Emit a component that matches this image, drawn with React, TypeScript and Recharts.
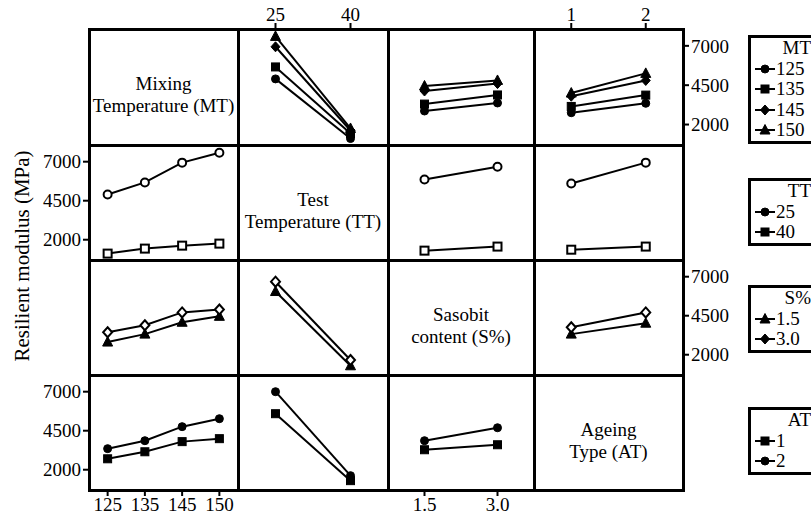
import React from 'react';
import { LineChart, Line, XAxis, YAxis } from 'recharts';

const MT_LEVELS = ['125', '135', '145', '150'];
const TT_LEVELS = ['25', '40'];
const S_LEVELS = ['1.5', '3.0'];
const AT_LEVELS = ['1', '2'];
const Y_TICKS = [2000, 4500, 7000];

// each inner array = one trace line, values in order of the x levels
const mtVsTt = [[4900, 1110], [5660, 1430], [6940, 1620], [7600, 1750]];
const mtVsS = [[2860, 3370], [3300, 3880], [4130, 4600], [4450, 4800]];
const mtVsAt = [[2750, 3350], [3150, 3870], [3800, 4800], [4000, 5250]];
const ttVsMt = [[4900, 5670, 6940, 7570], [1110, 1430, 1620, 1750]];
const ttVsS = [[5860, 6680], [1300, 1560]];
const ttVsAt = [[5600, 6940], [1360, 1560]];
const sVsMt = [[2810, 3320, 4080, 4460], [3440, 3890, 4710, 4900]];
const sVsTt = [[6050, 1290], [6680, 1660]];
const sVsAt = [[3320, 4020], [3760, 4710]];
const atVsMt = [[2700, 3150, 3800, 3990], [3350, 3860, 4760, 5270]];
const atVsTt = [[5590, 1300], [7000, 1620]];
const atVsS = [[3280, 3600], [3860, 4690]];

const MT_SHAPES = ['circle', 'square', 'diamond', 'triangle'];
const TT_SHAPES = ['circle', 'square'];
const S_SHAPES = ['triangle', 'diamond'];
const AT_SHAPES = ['square', 'circle'];

const COLS = [89, 238, 388, 534, 683];
const ROWS = [29, 145, 260, 375, 490];
const FONT = '"Liberation Serif", "Times New Roman", serif';
const TICK = { fill: '#000', fontSize: 19, fontFamily: FONT };

function Marker({ cx, cy, shape, hollow }: { cx: number; cy: number; shape: string; hollow?: boolean }) {
    const fill = hollow ? '#fff' : '#000';
    const sw = hollow ? 2 : 1;
    if (shape === 'square') return <rect x={cx - 4} y={cy - 4} width={8} height={8} fill={fill} stroke="#000" strokeWidth={sw} />;
    if (shape === 'diamond') return <polygon points={`${cx},${cy - 5} ${cx + 4.5},${cy} ${cx},${cy + 5} ${cx - 4.5},${cy}`} fill={fill} stroke="#000" strokeWidth={sw} />;
    if (shape === 'triangle') return <polygon points={`${cx},${cy - 5.5} ${cx + 5},${cy + 4} ${cx - 5},${cy + 4}`} fill={fill} stroke="#000" strokeWidth={sw} />;
    return <circle cx={cx} cy={cy} r={4} fill={fill} stroke="#000" strokeWidth={sw} />;
}

interface PanelProps {
    row: number;
    col: number;
    xLevels: string[];
    lines: number[][];
    shapes: string[];
    hollow?: boolean[];
    xAxis?: 'top' | 'bottom';
    yAxis?: 'left' | 'right';
}

function Panel({ row, col, xLevels, lines, shapes, hollow = [], xAxis, yAxis }: PanelProps) {
    const w = COLS[col + 1] - COLS[col];
    const h = ROWS[row + 1] - ROWS[row];
    const axW = 62;
    const axH = 30;
    const data = xLevels.map((_, i) => {
        const d: Record<string, number> = { x: i };
        lines.forEach((vals, k) => { d['s' + k] = vals[i]; });
        return d;
    });
    const left = COLS[col] - (yAxis === 'left' ? axW : 0);
    const top = ROWS[row] - (xAxis === 'top' ? axH : 0);
    return (
        <div style={{ position: 'absolute', left, top }}>
            <LineChart width={w + (yAxis ? axW : 0)} height={h + (xAxis ? axH : 0)} data={data}
                margin={{ top: 0, right: 0, bottom: 0, left: 0 }}>
                <XAxis dataKey="x" type="number" domain={[-0.5, xLevels.length - 0.5]} allowDataOverflow
                    ticks={xLevels.map((_, i) => i)} tickFormatter={(i: number) => xLevels[i]} interval={0}
                    hide={!xAxis} orientation={xAxis || 'bottom'} height={axH} axisLine={false}
                    tick={TICK} tickLine={{ stroke: '#000', strokeWidth: 2 }} />
                <YAxis type="number" domain={[700, 8070]} allowDataOverflow ticks={Y_TICKS} interval={0}
                    hide={!yAxis} orientation={yAxis || 'left'} width={axW} axisLine={false}
                    tick={TICK} tickLine={{ stroke: '#000', strokeWidth: 2 }} />
                {lines.map((_, k) => (
                    <Line key={k} dataKey={'s' + k} stroke="#000" strokeWidth={2} isAnimationActive={false}
                        activeDot={false}
                        dot={(p: any) => <Marker key={`${k}-${p.index}`} cx={p.cx} cy={p.cy} shape={shapes[k]} hollow={hollow[k]} />} />
                ))}
            </LineChart>
        </div>
    );
}

function CellLabel({ row, col, text }: { row: number; col: number; text: string[] }) {
    return (
        <div style={{
            position: 'absolute', left: COLS[col], top: ROWS[row] + 8, width: COLS[col + 1] - COLS[col],
            height: ROWS[row + 1] - ROWS[row], display: 'flex', flexDirection: 'column', justifyContent: 'center',
            alignItems: 'center', fontFamily: FONT, fontSize: 19, lineHeight: '22px', whiteSpace: 'nowrap',
        }}>
            {text.map(t => <div key={t}>{t}</div>)}
        </div>
    );
}

function LegendBox({ top, title, levels, shapes }: { top: number; title: string; levels: string[]; shapes: string[] }) {
    return (
        <div style={{
            position: 'absolute', left: 748, top, width: 70, border: '3px solid #000', background: '#fff',
            fontFamily: FONT, fontSize: 19, lineHeight: '20.5px', paddingLeft: 4,
        }}>
            <div style={{ textAlign: 'right', paddingRight: 14 }}>{title}</div>
            {levels.map((lv, k) => (
                <div key={lv} style={{ display: 'flex', alignItems: 'center' }}>
                    <svg width={20} height={12} style={{ marginRight: 1 }}>
                        <line x1={0} y1={6} x2={20} y2={6} stroke="#000" strokeWidth={2} />
                        <Marker cx={10} cy={6} shape={shapes[k]} />
                    </svg>
                    <span>{lv}</span>
                </div>
            ))}
        </div>
    );
}

export default function App() {
    const gridLines: React.ReactNode[] = [];
    COLS.forEach((x, i) => gridLines.push(
        <div key={'v' + i} style={{ position: 'absolute', left: x - 1.5, top: ROWS[0] - 1.5, width: 3, height: ROWS[4] - ROWS[0] + 3, background: '#000' }} />
    ));
    ROWS.forEach((y, i) => gridLines.push(
        <div key={'h' + i} style={{ position: 'absolute', left: COLS[0] - 1.5, top: y - 1.5, width: COLS[4] - COLS[0] + 3, height: 3, background: '#000' }} />
    ));

    return (
        <div style={{ position: 'absolute', left: 0, top: 0, width: 811, height: 520, overflow: 'hidden', background: '#fff' }}>
            {/* row 1: MT traces */}
            <Panel row={0} col={1} xLevels={TT_LEVELS} lines={mtVsTt} shapes={MT_SHAPES} xAxis="top" />
            <Panel row={0} col={2} xLevels={S_LEVELS} lines={mtVsS} shapes={MT_SHAPES} />
            <Panel row={0} col={3} xLevels={AT_LEVELS} lines={mtVsAt} shapes={MT_SHAPES} xAxis="top" yAxis="right" />
            {/* row 2: TT traces */}
            <Panel row={1} col={0} xLevels={MT_LEVELS} lines={ttVsMt} shapes={TT_SHAPES} hollow={[true, true]} yAxis="left" />
            <Panel row={1} col={2} xLevels={S_LEVELS} lines={ttVsS} shapes={TT_SHAPES} hollow={[true, true]} />
            <Panel row={1} col={3} xLevels={AT_LEVELS} lines={ttVsAt} shapes={TT_SHAPES} hollow={[true, true]} />
            {/* row 3: S% traces */}
            <Panel row={2} col={0} xLevels={MT_LEVELS} lines={sVsMt} shapes={S_SHAPES} hollow={[false, true]} />
            <Panel row={2} col={1} xLevels={TT_LEVELS} lines={sVsTt} shapes={S_SHAPES} hollow={[false, true]} />
            <Panel row={2} col={3} xLevels={AT_LEVELS} lines={sVsAt} shapes={S_SHAPES} hollow={[false, true]} yAxis="right" />
            {/* row 4: AT traces */}
            <Panel row={3} col={0} xLevels={MT_LEVELS} lines={atVsMt} shapes={AT_SHAPES} xAxis="bottom" yAxis="left" />
            <Panel row={3} col={1} xLevels={TT_LEVELS} lines={atVsTt} shapes={AT_SHAPES} />
            <Panel row={3} col={2} xLevels={S_LEVELS} lines={atVsS} shapes={AT_SHAPES} xAxis="bottom" />

            <CellLabel row={0} col={0} text={['Mixing', 'Temperature (MT)']} />
            <CellLabel row={1} col={1} text={['Test', 'Temperature (TT)']} />
            <CellLabel row={2} col={2} text={['Sasobit', 'content (S%)']} />
            <CellLabel row={3} col={3} text={['Ageing', 'Type (AT)']} />

            {gridLines}

            <div style={{
                position: 'absolute', left: 22, top: 256, transform: 'translate(-50%, -50%) rotate(-90deg)',
                fontFamily: FONT, fontSize: 21, whiteSpace: 'nowrap',
            }}>Resilient modulus (MPa)</div>

            <LegendBox top={35} title="MT" levels={MT_LEVELS} shapes={MT_SHAPES} />
            <LegendBox top={178} title="TT" levels={TT_LEVELS} shapes={TT_SHAPES} />
            <LegendBox top={285} title="S%" levels={S_LEVELS} shapes={S_SHAPES} />
            <LegendBox top={407} title="AT" levels={AT_LEVELS} shapes={AT_SHAPES} />
        </div>
    );
}
